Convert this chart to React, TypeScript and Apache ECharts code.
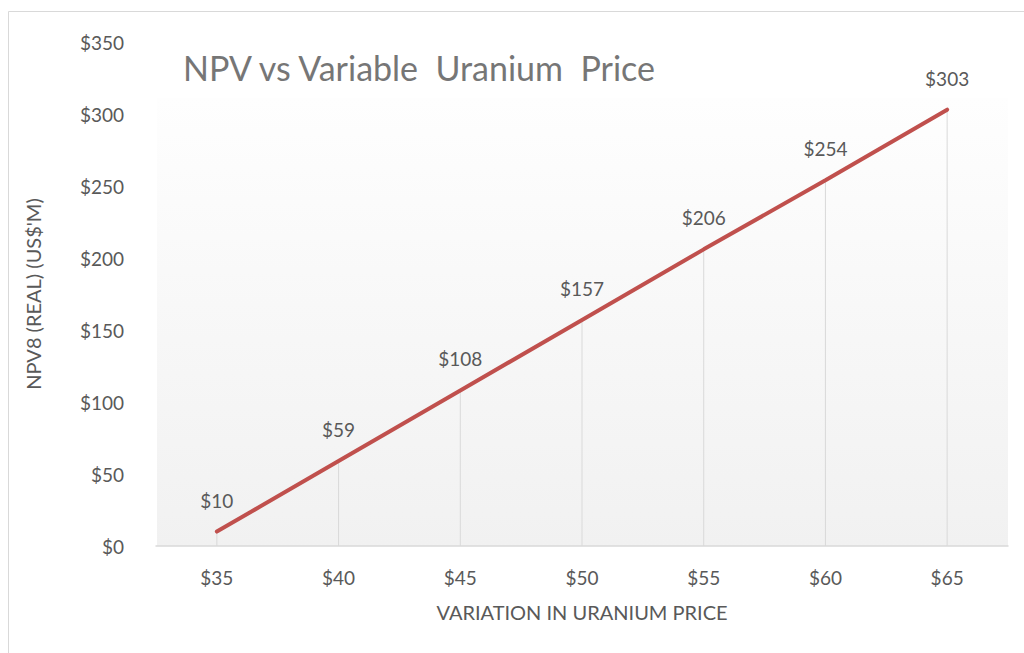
import React, { useEffect, useRef } from "react";
import * as echarts from "echarts";

const categories = ["$35", "$40", "$45", "$50", "$55", "$60", "$65"];
const npvValues = [10, 59, 108, 157, 206, 254, 303];
const yTicks = { min: 0, max: 350, interval: 50 };
const titleText = "NPV vs Variable  Uranium  Price";
const xAxisTitle = "VARIATION IN URANIUM PRICE";
const yAxisTitle = "NPV8 (REAL) (US$'M)";

const FONT = "Lato, 'Open Sans', sans-serif";

export default function App() {
  const ref = useRef<HTMLDivElement>(null);
  useEffect(() => {
    if (!ref.current) return;
    const chart = echarts.init(ref.current, undefined, { renderer: "svg" });
    chart.setOption({
      animation: false,
      backgroundColor: "#ffffff",
      textStyle: { fontFamily: FONT },
      grid: { left: 156, right: 16, top: 42, bottom: 107, containLabel: false },
      graphic: [
        {
          type: "rect",
          z: -10,
          silent: true,
          shape: { x: 157, y: 98, width: 851, height: 448 },
          style: {
            fill: new echarts.graphic.LinearGradient(0, 0, 0, 1, [
              { offset: 0, color: "#fefefe" },
              { offset: 1, color: "#f1f1f1" },
            ]),
          },
        },
        {
          type: "line",
          silent: true,
          shape: { x1: 8.5, y1: 11.5, x2: 1024, y2: 11.5 },
          style: { stroke: "#d9d9d9", lineWidth: 1 },
        },
        {
          type: "line",
          silent: true,
          shape: { x1: 8.5, y1: 11.5, x2: 8.5, y2: 653 },
          style: { stroke: "#d9d9d9", lineWidth: 1 },
        },
        {
          type: "text",
          x: 183,
          y: 67,
          style: {
            text: titleText,
            font: `34px ${FONT}`,
            fill: "#767676",
            verticalAlign: "middle",
            align: "left",
          },
        },
      ],
      xAxis: {
        type: "category",
        data: categories,
        boundaryGap: true,
        axisLine: { show: true, lineStyle: { color: "#d9d9d9", width: 1.5 } },
        axisTick: { show: false },
        axisLabel: { color: "#595959", fontSize: 19, margin: 22, fontFamily: FONT },
        splitLine: { show: false },
        name: xAxisTitle,
        nameLocation: "middle",
        nameGap: 56,
        nameTextStyle: { color: "#595959", fontSize: 20, fontFamily: FONT },
      },
      yAxis: {
        type: "value",
        min: yTicks.min,
        max: yTicks.max,
        interval: yTicks.interval,
        axisLine: { show: false },
        axisTick: { show: false },
        splitLine: { show: false },
        axisLabel: {
          color: "#595959",
          fontSize: 19,
          margin: 32,
          fontFamily: FONT,
          formatter: (v: number) => "$" + v,
        },
        name: yAxisTitle,
        nameLocation: "middle",
        nameGap: 113,
        nameRotate: 90,
        nameTextStyle: { color: "#595959", fontSize: 20, fontFamily: FONT },
      },
      series: [
        {
          type: "bar",
          data: npvValues,
          barWidth: 1,
          itemStyle: { color: "#d9d9d9" },
          silent: true,
          z: 1,
          label: {
            show: true,
            position: "top",
            distance: 22,
            color: "#595959",
            fontSize: 19,
            fontFamily: FONT,
            formatter: (p: any) => "$" + p.value,
          },
        },
        {
          type: "line",
          data: npvValues,
          z: 3,
          symbol: "none",
          lineStyle: { color: "#C0504D", width: 4, cap: "round" },
        },
      ],
    });
    return () => chart.dispose();
  }, []);
  return (
    <div
      ref={ref}
      style={{ position: "fixed", left: 0, top: 0, width: 1024, height: 653 }}
    />
  );
}
